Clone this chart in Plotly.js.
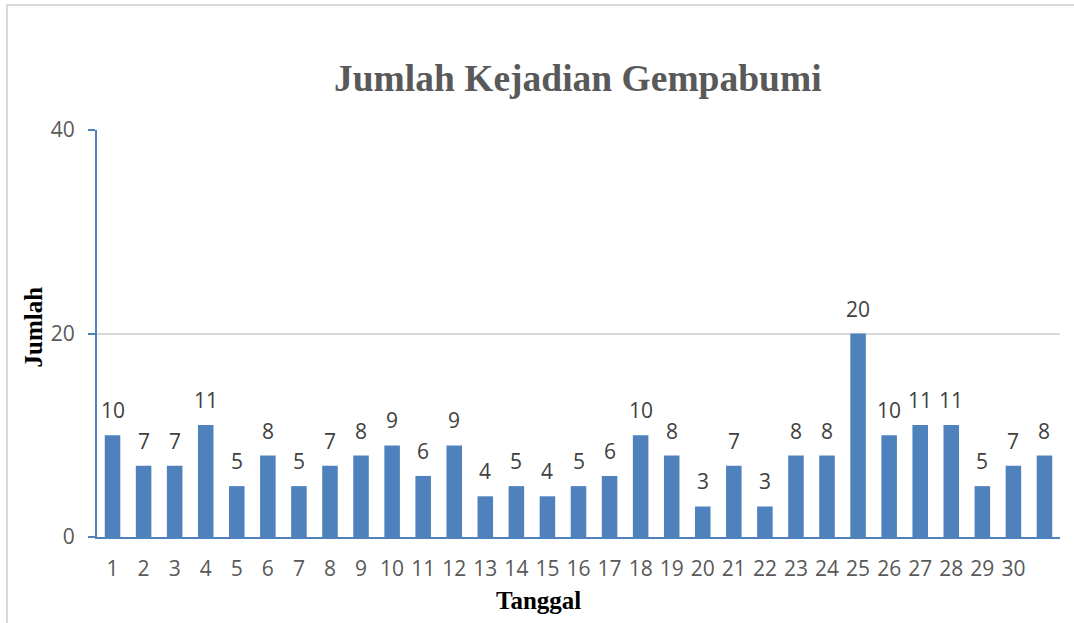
<!DOCTYPE html>
<html>
<head>
<meta charset="utf-8">
<script src="https://cdn.plot.ly/plotly-3.0.1.min.js"></script>
<style>
  html, body { margin: 0; padding: 0; background: #fff; }
  #wrap { position: relative; width: 1074px; height: 623px; overflow: hidden; }
  #chart { position: absolute; left: 0; top: 0; width: 1074px; height: 623px; }
  #frame { position: absolute; left: 6px; top: 4px; width: 1200px; height: 700px;
           border-top: 2px solid #d9d9d9; border-left: 2px solid #d9d9d9; pointer-events: none; }
</style>
</head>
<body>
<div id="wrap">
  <div id="chart"></div>
  <div id="frame"></div>
</div>
<script>
const days = [1,2,3,4,5,6,7,8,9,10,11,12,13,14,15,16,17,18,19,20,21,22,23,24,25,26,27,28,29,30,31];
const counts = [10,7,7,11,5,8,5,7,8,9,6,9,4,5,4,5,6,10,8,3,7,3,8,8,20,10,11,11,5,7,8];
const tickDays = [1,2,3,4,5,6,7,8,9,10,11,12,13,14,15,16,17,18,19,20,21,22,23,24,25,26,27,28,29,30];
const tickLabels = tickDays.map(String);
const chartTitle = 'Jumlah Kejadian Gempabumi';
const xTitle = 'Tanggal';
const yTitle = 'Jumlah';

const labelFont = {family: 'Open Sans, sans-serif', size: 21, color: '#404040'};

const annotations = days.map((d, i) => ({
  x: d, y: counts[i], xref: 'x', yref: 'y',
  text: String(counts[i]), showarrow: false,
  yanchor: 'bottom', yshift: 9, font: labelFont
}));
annotations.push({
  xref: 'paper', yref: 'paper', x: 0.458, y: 0, yanchor: 'middle', yshift: -63,
  text: '<b>' + xTitle + '</b>', showarrow: false,
  font: {family: 'Liberation Serif, Times New Roman, serif', size: 25, color: '#000'}
});
annotations.push({
  xref: 'paper', yref: 'paper', x: -0.065, y: 0.516, xanchor: 'center', yanchor: 'middle',
  text: '<b>' + yTitle + '</b>', showarrow: false, textangle: -90,
  font: {family: 'Liberation Serif, Times New Roman, serif', size: 25, color: '#000'}
});

const trace = {
  type: 'bar', x: days, y: counts,
  marker: {color: '#4F81BD'},
  hoverinfo: 'x+y'
};

const layout = {
  width: 1074, height: 623,
  margin: {l: 97, r: 14, t: 130, b: 86},
  paper_bgcolor: 'rgba(0,0,0,0)', plot_bgcolor: 'rgba(0,0,0,0)',
  bargap: 0.5,
  showlegend: false,
  title: {
    text: '<b>' + chartTitle + '</b>',
    x: 0.538, xanchor: 'center', y: 0.875, yanchor: 'middle', yref: 'container',
    font: {family: 'Liberation Serif, Times New Roman, serif', size: 37.5, color: '#595959'}
  },
  xaxis: {
    range: [0.5, 31.5],
    tickmode: 'array', tickvals: tickDays, ticktext: tickLabels,
    showgrid: false, zeroline: false,
    showline: true, linecolor: '#4F81BD', linewidth: 2,
    ticks: '', ticklabelstandoff: 12,
    tickfont: {family: 'Open Sans, sans-serif', size: 21, color: '#595959'},
    fixedrange: true
  },
  yaxis: {
    range: [0, 40], tickvals: [0, 20, 40],
    showgrid: true, gridcolor: '#d9d9d9', gridwidth: 2,
    zeroline: false,
    showline: true, linecolor: '#4F81BD', linewidth: 2,
    ticks: 'outside', ticklen: 7, tickcolor: '#4F81BD', tickwidth: 2,
    ticklabelstandoff: 9,
    tickfont: {family: 'Open Sans, sans-serif', size: 21, color: '#595959'},
    fixedrange: true
  },
  annotations: annotations
};

Plotly.newPlot('chart', [trace], layout, {displayModeBar: false, staticPlot: true});
</script>
</body>
</html>
